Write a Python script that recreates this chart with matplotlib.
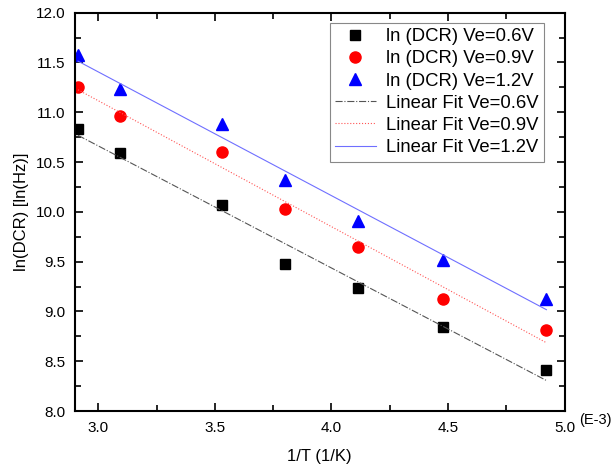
import numpy as np
import matplotlib
matplotlib.use('Agg')
import matplotlib.pyplot as plt
from matplotlib.ticker import MultipleLocator, FormatStrFormatter

plt.rcParams['font.family'] = ['Liberation Sans', 'DejaVu Sans']

inv_t = [2.913, 3.093, 3.530, 3.800, 4.112, 4.480, 4.922]
dcr_06 = [10.83, 10.59, 10.07, 9.48, 9.235, 8.845, 8.415]
dcr_09 = [11.25, 10.96, 10.60, 10.025, 9.65, 9.12, 8.81]
dcr_12 = [11.575, 11.235, 10.885, 10.32, 9.91, 9.52, 9.125]

fig = plt.figure(figsize=(6.13, 4.70), dpi=100)
ax = fig.add_axes([0.1223, 0.1255, 0.7987, 0.8475])

ax.plot(inv_t, dcr_06, 's', color='black', markersize=7, label='ln (DCR) Ve=0.6V')
ax.plot(inv_t, dcr_09, 'o', color='red', markersize=8, label='ln (DCR) Ve=0.9V')
ax.plot(inv_t, dcr_12, '^', color='blue', markersize=8.5, label='ln (DCR) Ve=1.2V')

x = np.array(inv_t)
styles = [(dcr_06, '-.', '#555555', 'Linear Fit Ve=0.6V'),
          (dcr_09, ':', '#ff5555', 'Linear Fit Ve=0.9V'),
          (dcr_12, '-', '#6f6fff', 'Linear Fit Ve=1.2V')]
for y, ls, c, lab in styles:
    k, b = np.polyfit(x, y, 1)
    ax.plot(x, k * x + b, ls, color=c, linewidth=0.8, label=lab)

ax.set_xlim(2.9, 5.0)
ax.set_ylim(8.0, 12.0)
ax.xaxis.set_major_locator(MultipleLocator(0.5))
ax.xaxis.set_minor_locator(MultipleLocator(0.25))
ax.yaxis.set_major_locator(MultipleLocator(0.5))
ax.yaxis.set_minor_locator(MultipleLocator(0.25))
ax.xaxis.set_major_formatter(FormatStrFormatter('%.1f'))
ax.yaxis.set_major_formatter(FormatStrFormatter('%.1f'))
ax.tick_params(which='both', direction='in', top=True, right=True, labelsize=11, width=1.2)
ax.tick_params(which='major', length=6, pad=7)
ax.tick_params(which='minor', length=4)
for s in ax.spines.values():
    s.set_linewidth(1.5)

ax.set_xlabel('1/T (1/K)', fontsize=12, labelpad=10)
ax.set_ylabel('ln(DCR) [ln(Hz)]', fontsize=12, labelpad=5)
ax.text(1.03, -0.04, '(E-3)', transform=ax.transAxes, fontsize=10.5, ha='left', va='bottom')

leg = ax.legend(loc='upper right', bbox_to_anchor=(0.958, 0.975), fontsize=13.3,
                fancybox=False, framealpha=1, edgecolor='#888888',
                handlelength=2.2, handletextpad=0.55, labelspacing=0.28,
                borderpad=0.3, borderaxespad=0)
leg.get_frame().set_linewidth(0.8)

plt.savefig('out.png', dpi=100)
